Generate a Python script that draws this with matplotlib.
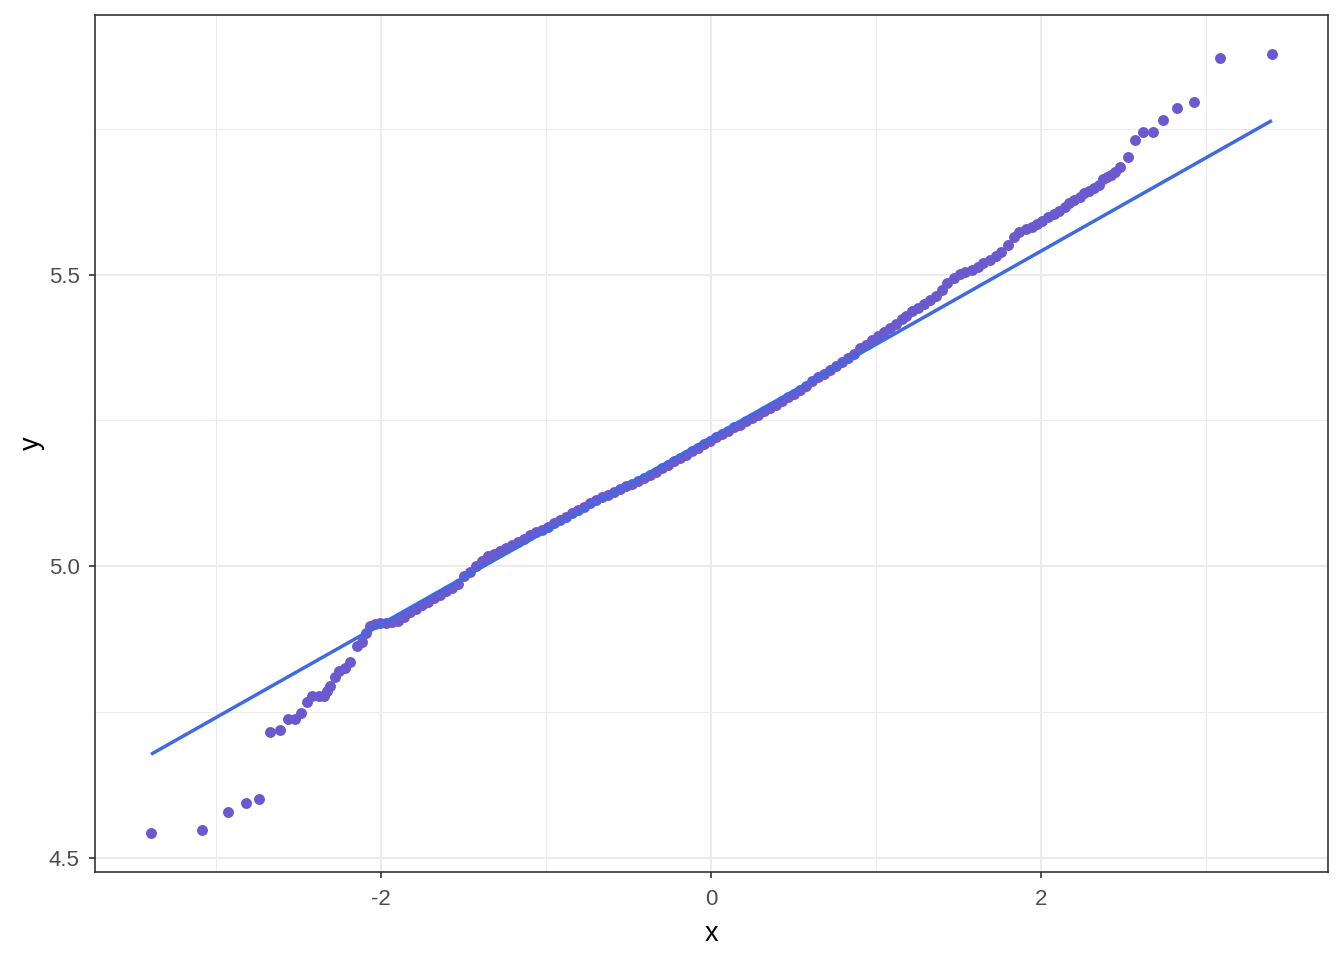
import matplotlib
matplotlib.use("Agg")
import matplotlib.pyplot as plt
import numpy as np

# normal QQ plot: theoretical quantile (x) vs sample quantile (y)
theo = [
    -3.393, -3.084, -2.927, -2.818, -2.737, -2.673, -2.610, -2.566, -2.518, -2.483,
    -2.449, -2.415, -2.378, -2.348, -2.328, -2.308, -2.277, -2.257, -2.217, -2.186,
    -2.146, -2.116, -2.090, -2.065, -2.035, -2.005, -1.969, -1.932, -1.896, -1.860,
    -1.823, -1.787, -1.751, -1.714, -1.678, -1.642, -1.605, -1.569, -1.533, -1.496,
    -1.460, -1.424, -1.387, -1.351, -1.315, -1.278, -1.242, -1.206, -1.169, -1.133,
    -1.097, -1.061, -1.024, -0.988, -0.952, -0.915, -0.879, -0.843, -0.806, -0.770,
    -0.734, -0.697, -0.661, -0.625, -0.588, -0.552, -0.516, -0.479, -0.443, -0.407,
    -0.370, -0.334, -0.298, -0.262, -0.225, -0.189, -0.153, -0.116, -0.080, -0.044,
    -0.007, 0.029, 0.065, 0.102, 0.138, 0.174, 0.211, 0.247, 0.283, 0.320,
    0.356, 0.392, 0.429, 0.465, 0.501, 0.538, 0.574, 0.610, 0.646, 0.683,
    0.719, 0.755, 0.792, 0.828, 0.864, 0.901, 0.937, 0.973, 1.010, 1.046,
    1.082, 1.119, 1.155, 1.179, 1.216, 1.252, 1.288, 1.324, 1.361, 1.397,
    1.433, 1.470, 1.506, 1.542, 1.579, 1.615, 1.651, 1.688, 1.724, 1.760,
    1.797, 1.833, 1.869, 1.906, 1.942, 1.978, 2.008, 2.045, 2.081, 2.111,
    2.142, 2.172, 2.202, 2.233, 2.263, 2.293, 2.323, 2.354, 2.378, 2.402,
    2.426, 2.450, 2.481, 2.527, 2.571, 2.620, 2.676, 2.741, 2.824, 2.927,
    3.084, 3.399,
]
sample = [
    4.543, 4.548, 4.579, 4.595, 4.601, 4.716, 4.719, 4.739, 4.739, 4.748,
    4.767, 4.777, 4.777, 4.777, 4.786, 4.795, 4.810, 4.820, 4.826, 4.836,
    4.863, 4.871, 4.885, 4.897, 4.902, 4.903, 4.903, 4.904, 4.907, 4.914,
    4.921, 4.927, 4.933, 4.939, 4.945, 4.951, 4.957, 4.963, 4.970, 4.983,
    4.991, 5.001, 5.009, 5.017, 5.022, 5.026, 5.032, 5.036, 5.042, 5.047,
    5.053, 5.058, 5.063, 5.068, 5.074, 5.080, 5.085, 5.091, 5.097, 5.102,
    5.108, 5.113, 5.118, 5.123, 5.128, 5.132, 5.137, 5.141, 5.146, 5.151,
    5.157, 5.162, 5.168, 5.174, 5.180, 5.186, 5.191, 5.197, 5.203, 5.209,
    5.215, 5.221, 5.226, 5.232, 5.238, 5.243, 5.249, 5.254, 5.260, 5.266,
    5.271, 5.277, 5.283, 5.290, 5.296, 5.302, 5.309, 5.317, 5.324, 5.330,
    5.337, 5.344, 5.350, 5.357, 5.364, 5.374, 5.380, 5.387, 5.394, 5.401,
    5.408, 5.415, 5.423, 5.429, 5.437, 5.443, 5.450, 5.456, 5.464, 5.474,
    5.485, 5.494, 5.501, 5.504, 5.508, 5.513, 5.519, 5.525, 5.531, 5.538,
    5.551, 5.564, 5.573, 5.578, 5.582, 5.587, 5.592, 5.598, 5.604, 5.609,
    5.615, 5.623, 5.628, 5.633, 5.639, 5.644, 5.648, 5.654, 5.663, 5.668,
    5.670, 5.676, 5.684, 5.701, 5.731, 5.745, 5.745, 5.765, 5.786, 5.796,
    5.871, 5.878,
]

# reference line (through the quartiles), end points as read
line_x = [-3.393, 3.399]
line_y = [4.678, 5.764]

x_major = [-2, 0, 2]
x_minor = [-3, -1, 1, 3]
y_major = [4.5, 5.0, 5.5]
y_minor = [4.75, 5.25, 5.75]

plt.rcParams['font.family'] = ['Liberation Sans', 'DejaVu Sans']

fig = plt.figure(figsize=(13.44, 9.6), dpi=100)
ax = fig.add_axes([95 / 1344, 1 - 872 / 960, (1328 - 95) / 1344, (872 - 15) / 960])

ax.scatter(theo, sample, s=62, color='#6A5ACD', linewidths=0, zorder=3)
ax.plot(line_x, line_y, color='#4169E1', lw=2.5, solid_capstyle='butt', zorder=4)

# ggplot style 5% expansion
xr = max(theo) - min(theo)
yr = max(sample) - min(sample)
ax.set_xlim(min(theo) - 0.05 * xr, max(theo) + 0.05 * xr)
ax.set_ylim(min(sample) - 0.05 * yr, max(sample) + 0.05 * yr)

ax.set_xticks(x_major)
ax.set_xticks(x_minor, minor=True)
ax.set_yticks(y_major)
ax.set_yticks(y_minor, minor=True)
ax.set_xticklabels(['-2', '0', '2'])
ax.set_yticklabels(['4.5', '5.0', '5.5'])

ax.grid(which='major', color='#EBEBEB', lw=1.5, zorder=0)
ax.grid(which='minor', color='#EBEBEB', lw=0.75, zorder=0)
ax.set_axisbelow(True)

ax.tick_params(which='major', length=4, width=1.2, color='#333333',
               labelsize=16, labelcolor='#4D4D4D')
ax.tick_params(axis='x', which='major', pad=8)
ax.tick_params(axis='y', which='major', pad=7)
ax.tick_params(which='minor', length=0)
for sp in ax.spines.values():
    sp.set_color('#333333')
    sp.set_linewidth(1.2)

ax.set_xlabel('x', fontsize=19.5, labelpad=8)
ax.set_ylabel('y', fontsize=19.5, labelpad=3)

fig.savefig('out.png', dpi=100)
